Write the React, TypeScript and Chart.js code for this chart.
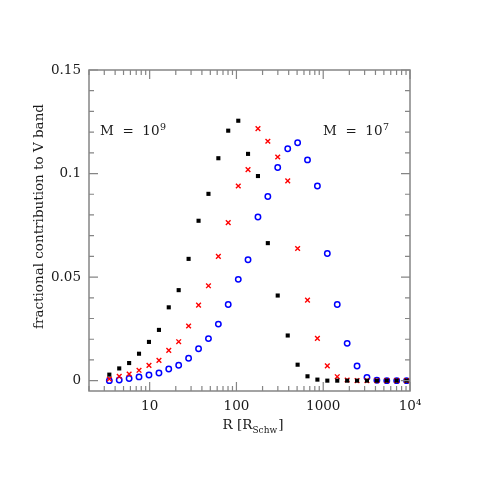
import React, { useEffect, useRef } from "react";
import { Chart, registerables } from "chart.js";

Chart.register(...registerables);

// Radius grid (R in Schwarzschild radii)
const R = [
  3.43, 4.46, 5.8, 7.54, 9.82, 12.8, 16.6, 21.6, 28.1, 36.6, 47.6, 61.9, 80.4, 105, 136, 177,
  230, 299, 390, 507, 659, 857, 1115, 1451, 1888, 2455, 3193, 4153, 5402, 7026, 9140,
];

// M = 10^9 (black squares)
const seriesBlack = [
  0.0029, 0.0059, 0.0085, 0.013, 0.0187, 0.0245, 0.0354, 0.0437, 0.0588, 0.0772, 0.0902, 0.1074,
  0.1207, 0.1255, 0.1095, 0.0988, 0.0664, 0.0411, 0.0218, 0.0077, 0.0021, 0.0005, 0, 0, 0, 0, 0,
  0, 0, 0, 0,
];

// intermediate mass (red crosses)
const seriesRed = [
  0.0008, 0.0021, 0.0032, 0.005, 0.0074, 0.0098, 0.0146, 0.0188, 0.0264, 0.0365, 0.0458, 0.06,
  0.0763, 0.094, 0.1019, 0.1217, 0.1156, 0.108, 0.0965, 0.0638, 0.0389, 0.0204, 0.0071, 0.0019,
  0.0003, 0, 0, 0, 0, 0, 0,
];

// M = 10^7 (blue circles)
const seriesBlue = [
  0.0, 0.0003, 0.001, 0.0018, 0.0027, 0.0037, 0.0056, 0.0074, 0.0108, 0.0154, 0.0203, 0.0273,
  0.0368, 0.0489, 0.0584, 0.079, 0.0889, 0.1029, 0.112, 0.1149, 0.1066, 0.094, 0.0614, 0.0368,
  0.018, 0.0071, 0.0016, 0.0002, 0, 0, 0,
];

const xTicks = [10, 100, 1000, 10000];
const xTickLabels = ["10", "100", "1000", "10\u2074"];
const yTicks = [0, 0.05, 0.1, 0.15];
const yTickLabels = ["0", "0.05", "0.1", "0.15"];

const FONT = "'DejaVu Serif', serif";
const TEXT = "#1a1a1a";
const AXIS = "#858585";

const framePlugin = {
  id: "frame",
  afterDraw(chart: any) {
    const { ctx, chartArea } = chart;
    const { left, right, top, bottom } = chartArea;
    const xs = chart.scales.x;
    const ys = chart.scales.y;
    ctx.save();
    ctx.strokeStyle = AXIS;
    ctx.lineWidth = 1.5;
    ctx.strokeRect(left, top, right - left, bottom - top);
    ctx.lineWidth = 1.2;
    ctx.beginPath();
    // x ticks (log)
    for (let d = 0; d <= 4; d++) {
      for (let m = 1; m <= 9; m++) {
        const v = m * Math.pow(10, d);
        if (v < 2 || v > 10000) continue;
        const px = xs.getPixelForValue(v);
        const len = m === 1 ? 9 : 5;
        ctx.moveTo(px, bottom);
        ctx.lineTo(px, bottom - len);
        ctx.moveTo(px, top);
        ctx.lineTo(px, top + len);
      }
    }
    // y ticks
    for (let i = 0; i <= 15; i++) {
      const v = i * 0.01;
      const py = ys.getPixelForValue(v);
      const len = i % 5 === 0 ? 9 : 5;
      ctx.moveTo(left, py);
      ctx.lineTo(left + len, py);
      ctx.moveTo(right, py);
      ctx.lineTo(right - len, py);
    }
    ctx.stroke();

    ctx.fillStyle = TEXT;
    ctx.textBaseline = "alphabetic";
    // y title
    ctx.save();
    ctx.translate(43, 216.5);
    ctx.rotate(-Math.PI / 2);
    ctx.font = `13.5px ${FONT}`;
    ctx.textAlign = "center";
    ctx.fillText("fractional contribution to V band", 0, 0);
    ctx.restore();

    // x title: R [R_Schw]
    ctx.font = `13.5px ${FONT}`;
    const a = "R [R";
    const b = "Schw";
    const c = "]";
    const wa = ctx.measureText(a).width;
    ctx.font = `9px ${FONT}`;
    const wb = ctx.measureText(b).width;
    ctx.font = `13.5px ${FONT}`;
    const wc = ctx.measureText(c).width;
    const total = wa + wb + wc + 1;
    let x0 = 253 - total / 2;
    const base = 429;
    ctx.textAlign = "left";
    ctx.fillText(a, x0, base);
    ctx.font = `9px ${FONT}`;
    ctx.fillText(b, x0 + wa, base + 4);
    ctx.font = `13.5px ${FONT}`;
    ctx.fillText(c, x0 + wa + wb + 1, base);

    // annotations
    const drawMass = (x: number, y: number, exp: string) => {
      ctx.font = `13.5px ${FONT}`;
      const main = "M  =  10";
      ctx.fillText(main, x, y);
      const w = ctx.measureText(main).width;
      ctx.font = `9.5px ${FONT}`;
      ctx.fillText(exp, x + w + 0.5, y - 5.5);
    };
    drawMass(100, 135, "9");
    drawMass(323, 135, "7");
    ctx.restore();
  },
};

export default function App() {
  const ref = useRef<HTMLCanvasElement | null>(null);
  useEffect(() => {
    if (!ref.current) return;
    const mk = (arr: number[]) => R.map((r, i) => ({ x: r, y: arr[i] }));
    const chart = new Chart(ref.current, {
      type: "scatter",
      data: {
        datasets: [
          {
            data: mk(seriesBlack),
            pointStyle: "rect",
            pointRadius: 2.9,
            backgroundColor: "#000000",
            borderColor: "#000000",
            borderWidth: 0,
          },
          {
            data: mk(seriesRed),
            pointStyle: "crossRot",
            pointRadius: 3.3,
            borderColor: "#ff0000",
            backgroundColor: "#ff0000",
            borderWidth: 1.4,
          },
          {
            data: mk(seriesBlue),
            pointStyle: "circle",
            pointRadius: 2.7,
            borderColor: "#0000ff",
            backgroundColor: "rgba(0,0,0,0)",
            borderWidth: 1.5,
          },
        ],
      },
      options: {
        animation: false,
        responsive: false,
        devicePixelRatio: 1,
        layout: { padding: { top: 70, right: 70, left: 0, bottom: 0 } },
        plugins: { legend: { display: false }, tooltip: { enabled: false } },
        scales: {
          x: {
            type: "logarithmic",
            min: 2,
            max: 10000,
            grid: { display: false, drawTicks: false },
            border: { display: false },
            ticks: {
              autoSkip: false,
              maxRotation: 0,
              padding: 7,
              color: TEXT,
              font: { family: FONT, size: 13.5 },
              callback: (v: any) => {
                const i = xTicks.indexOf(Number(v));
                return i >= 0 ? xTickLabels[i] : "";
              },
            },
            afterBuildTicks: (s: any) => {
              s.ticks = xTicks.map((v) => ({ value: v }));
            },
            afterFit: (s: any) => {
              s.height = 89;
            },
          },
          y: {
            type: "linear",
            min: -0.005,
            max: 0.15,
            grid: { display: false, drawTicks: false },
            border: { display: false },
            ticks: {
              padding: 8,
              color: TEXT,
              font: { family: FONT, size: 13.5 },
              callback: (v: any) => {
                const i = yTicks.findIndex((t) => Math.abs(t - Number(v)) < 1e-9);
                return i >= 0 ? yTickLabels[i] : "";
              },
            },
            afterBuildTicks: (s: any) => {
              s.ticks = yTicks.map((v) => ({ value: v }));
            },
            afterFit: (s: any) => {
              s.width = 89;
            },
          },
        },
      },
      plugins: [framePlugin],
    });
    return () => chart.destroy();
  }, []);
  return (
    <div style={{ position: "absolute", left: 0, top: 0, width: 480, height: 480, background: "#fff" }}>
      <canvas ref={ref} width={480} height={480} style={{ width: 480, height: 480 }} />
    </div>
  );
}
